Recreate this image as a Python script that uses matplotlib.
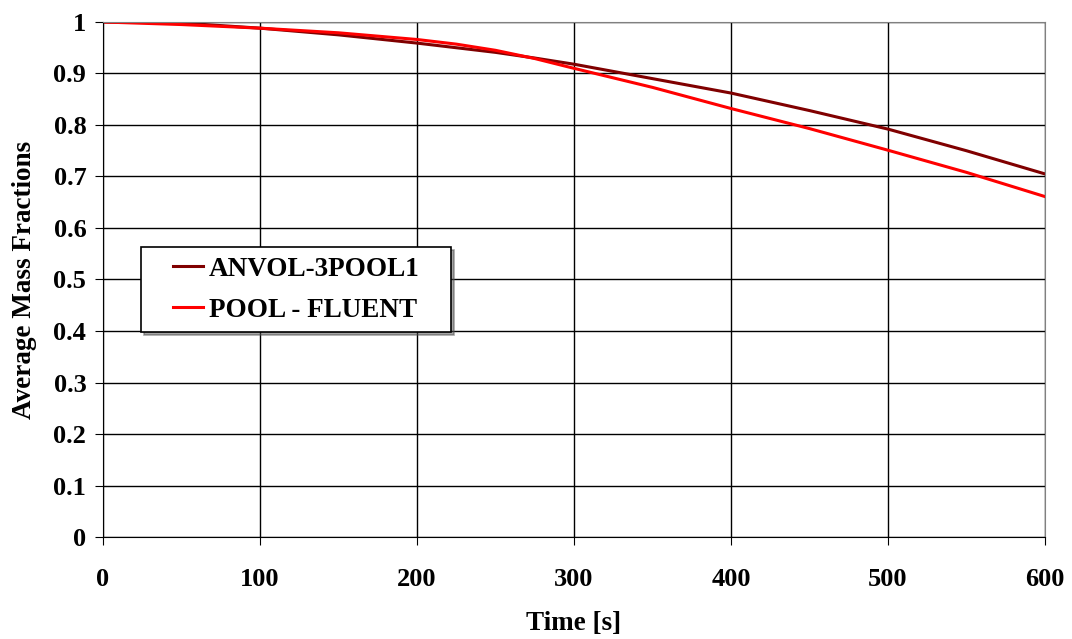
import matplotlib
matplotlib.use("Agg")
import matplotlib.pyplot as plt
from matplotlib.legend_handler import HandlerLine2D
from matplotlib.lines import Line2D

time_s = [0, 50, 100, 150, 200, 225, 250, 275, 300, 350, 400, 450, 500, 550, 600]
anvol = [1.0, 0.998, 0.988, 0.975, 0.959, 0.950, 0.941, 0.930, 0.918, 0.890, 0.862, 0.828, 0.792, 0.750, 0.705]
fluent = [1.0, 0.995, 0.988, 0.979, 0.966, 0.957, 0.945, 0.929, 0.910, 0.873, 0.832, 0.793, 0.751, 0.708, 0.661]

series_names = ["ANVOL-3POOL1", "POOL - FLUENT"]
xticks = [0, 100, 200, 300, 400, 500, 600]
yticks = [0, 0.1, 0.2, 0.3, 0.4, 0.5, 0.6, 0.7, 0.8, 0.9, 1.0]
ytick_labels = ["0", "0.1", "0.2", "0.3", "0.4", "0.5", "0.6", "0.7", "0.8", "0.9", "1"]

plt.rcParams['font.family'] = ['Liberation Serif', 'DejaVu Serif']
plt.rcParams['font.weight'] = 'bold'

fig = plt.figure(figsize=(10.72, 6.39), dpi=100)
ax = fig.add_axes([0.0961, 0.1596, 0.8787, 0.806])

ax.plot(time_s, anvol, color='#800000', lw=2.2, label=series_names[0])
ax.plot(time_s, fluent, color='#ff0000', lw=2.2, label=series_names[1])

ax.set_xlim(0, 600)
ax.set_ylim(0, 1)
ax.set_xticks(xticks)
ax.set_xticklabels([str(v) for v in xticks])
ax.set_yticks(yticks)
ax.set_yticklabels(ytick_labels)
ax.grid(True, color='black', lw=1.0)
ax.tick_params(axis='both', labelsize=19, direction='out', length=6, color='black')
ax.tick_params(axis='x', pad=16)
ax.tick_params(axis='y', pad=6)
for lab in ax.get_xticklabels() + ax.get_yticklabels():
    lab.set_fontweight('bold')

for s in ['top', 'right']:
    ax.spines[s].set_color('#808080')
for s in ['left', 'bottom']:
    ax.spines[s].set_color('black')

ax.set_xlabel('Time [s]', fontsize=19.5, fontweight='bold', labelpad=15)
ax.set_ylabel('Average Mass Fractions', fontsize=19.5, fontweight='bold', labelpad=12)

leg = ax.legend(loc='upper left', bbox_to_anchor=(0.0403, 0.30, 0.329, 0.263), mode='expand',
                frameon=True, shadow=True, fancybox=False, fontsize=19.5,
                handlelength=1.95, handletextpad=0.22, borderpad=0.35, labelspacing=0.6,
                edgecolor='black', borderaxespad=0,
                handler_map={Line2D: HandlerLine2D(xpad=0.85)})
leg.get_frame().set_linewidth(1.2)
for t in leg.get_texts():
    t.set_fontweight('bold')

fig.savefig('out.png', dpi=100)
